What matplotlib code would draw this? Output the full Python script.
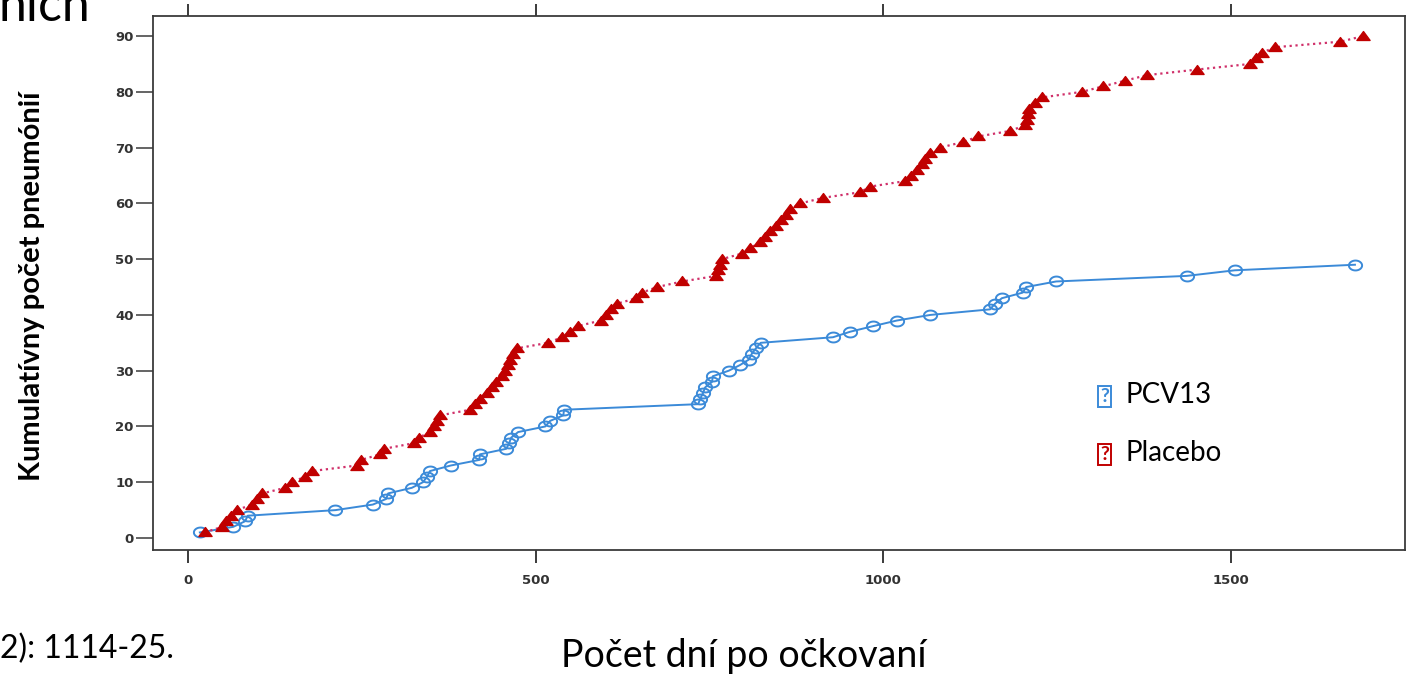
import matplotlib
matplotlib.use("Agg")
import matplotlib.pyplot as plt
import numpy as np
from matplotlib.path import Path

# --- data (day of each event) ---
pcv13_days = [17, 65, 82, 86, 212, 266, 285, 288, 322, 338, 344, 348, 378, 419, 420,
              458, 462, 465, 475, 514, 521, 540, 541, 734, 737, 741, 744, 754, 755,
              778, 794, 807, 811, 817, 824, 928, 953, 986, 1020, 1068, 1154, 1161,
              1171, 1201, 1206, 1249, 1437, 1506, 1679]
placebo_days = [24, 49, 55, 62, 70, 92, 99, 107, 140, 150, 168, 178, 243, 249, 276,
                282, 325, 332, 348, 354, 358, 363, 406, 413, 420, 430, 437, 443, 452,
                456, 460, 463, 468, 473, 518, 538, 550, 561, 594, 601, 609, 617, 645,
                653, 675, 711, 760, 763, 765, 768, 797, 809, 823, 830, 837, 846, 853,
                860, 866, 881, 914, 967, 981, 1032, 1040, 1049, 1056, 1060, 1068, 1082,
                1115, 1137, 1183, 1204, 1207, 1209, 1210, 1219, 1229, 1286, 1317, 1348,
                1380, 1452, 1528, 1537, 1545, 1564, 1658, 1691]
pcv13_count = np.arange(1, len(pcv13_days) + 1)
placebo_count = np.arange(1, len(placebo_days) + 1)

x_ticks = [0, 500, 1000, 1500]
y_ticks = [0, 10, 20, 30, 40, 50, 60, 70, 80, 90]

BLUE = "#3b8ad8"
RED = "#c00000"
RED_LINE = "#d0306a"
TXT = "Lato"

W, H = 1407, 674

# markers look a bit stretched sideways in the original picture
t = np.linspace(0, 2 * np.pi, 60)
ellipse = Path(np.column_stack([np.cos(t), 0.75 * np.sin(t)]), closed=True)
tri = Path([(-1, -0.6), (1, -0.6), (0, 0.75), (-1, -0.6)], closed=True)

fig = plt.figure(figsize=(W / 100, H / 100), dpi=100)
ax = fig.add_axes([153 / W, 1 - 550 / H, (1405 - 153) / W, (550 - 16) / H])

ax.plot(placebo_days, placebo_count, linestyle=":", color=RED_LINE, lw=1.6,
        marker=tri, markersize=9.5, mfc=RED, mec=RED, zorder=3)
ax.plot(pcv13_days, pcv13_count, linestyle="-", color=BLUE, lw=1.4,
        marker=ellipse, markersize=9.5, mfc="none", mec=BLUE, mew=1.4, zorder=2)

ax.set_xlim(-50.4, 1751)
ax.set_ylim(-2.15, 93.6)
ax.set_xticks(x_ticks)
ax.set_yticks(y_ticks)

for s in ax.spines.values():
    s.set_color("#3a3a3a")
    s.set_linewidth(1.3)

ax.tick_params(axis="x", which="both", direction="out", length=9, width=1.4,
               color="#3a3a3a", top=True, labeltop=False, pad=8,
               labelsize=9.5, labelcolor="#333333")
ax.tick_params(axis="y", direction="out", length=12, width=1.1, color="#3a3a3a",
               pad=2, labelsize=9.5, labelcolor="#333333")
for lab in ax.get_xticklabels() + ax.get_yticklabels():
    lab.set_fontweight("bold")
    lab.set_family("DejaVu Sans")

ax.set_ylabel("Kumulatívny počet pneumónií", family=TXT, fontweight="bold",
              fontsize=21, color="black")
ax.yaxis.set_label_coords((45 - 153) / (1405 - 153), (550 - 286) / 534)

# slide text around the chart
fig.text(744 / W, 1 - 667 / H, "Počet dní po očkovaní", family=TXT, fontsize=27,
         ha="center", va="baseline")
fig.text(0, 1 - 658 / H, "2): 1114-25.", family=TXT, fontsize=23,
         ha="left", va="baseline")
fig.text(-2 / W, 1 - 21 / H, "nich", family=TXT, fontsize=36,
         ha="left", va="baseline")

# legend drawn as slide text, the symbol glyph was missing in the source
for label, col, yb in [("PCV13", BLUE, 403), ("Placebo", RED, 461)]:
    fig.text(1100 / W, 1 - (yb - 1) / H, "?", family=TXT, fontsize=14,
             fontweight="bold", color=col, ha="left", va="baseline",
             bbox=dict(boxstyle="square,pad=0.12", fc="white", ec=col, lw=1.4))
    fig.text(1126 / W, 1 - yb / H, label, family=TXT, fontsize=20,
             ha="left", va="baseline")

fig.savefig("out.png", dpi=100, facecolor="white")
